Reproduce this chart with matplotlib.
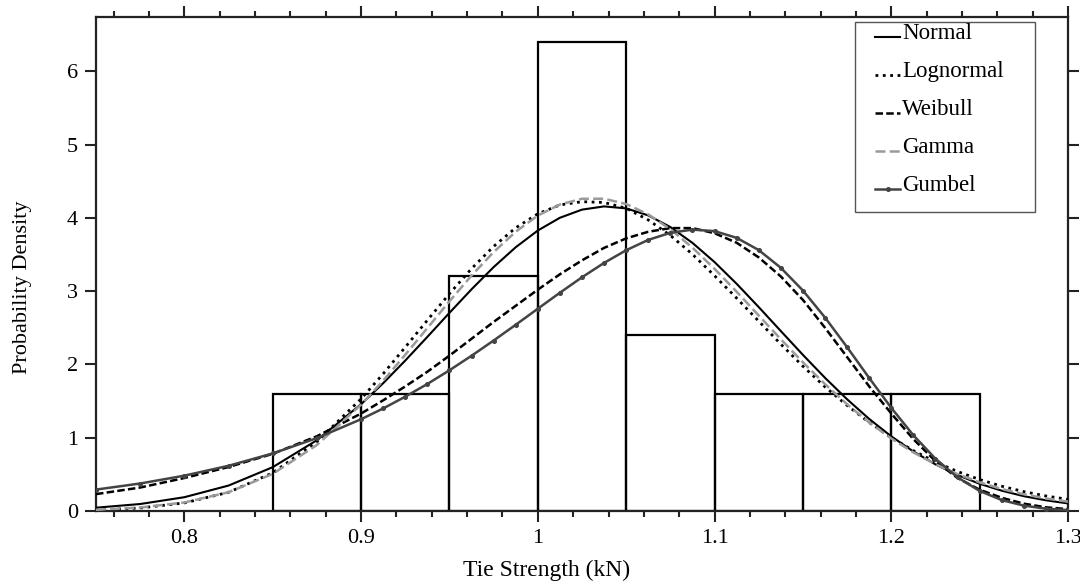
import numpy as np
import matplotlib
matplotlib.use('Agg')
import matplotlib.pyplot as plt
from matplotlib.lines import Line2D
from matplotlib.patches import Rectangle
from matplotlib.legend_handler import HandlerLine2D

# histogram of tie strength (kN)
bin_left = [0.85, 0.90, 0.95, 1.00, 1.05, 1.10, 1.15, 1.20]
bin_height = [1.6, 1.6, 3.2, 6.4, 2.4, 1.6, 1.6, 1.6]
bin_width = 0.05

# fitted density curves
x_fit = [0.75, 0.775, 0.8, 0.825, 0.85, 0.875, 0.9, 0.9125, 0.925, 0.9375,
         0.95, 0.9625, 0.975, 0.9875, 1.0, 1.0125, 1.025, 1.0375, 1.05, 1.0625,
         1.075, 1.0875, 1.1, 1.1125, 1.125, 1.1375, 1.15, 1.1625, 1.175, 1.1875,
         1.2, 1.2125, 1.225, 1.2375, 1.25, 1.2625, 1.275, 1.2875, 1.3]
normal = [0.045, 0.095, 0.188, 0.347, 0.598, 0.966, 1.457, 1.744, 2.053, 2.376,
          2.704, 3.025, 3.328, 3.599, 3.827, 4.001, 4.112, 4.156, 4.129, 4.033,
          3.874, 3.658, 3.396, 3.100, 2.782, 2.455, 2.130, 1.817, 1.524, 1.256,
          1.018, 0.812, 0.636, 0.490, 0.371, 0.277, 0.202, 0.146, 0.103]
lognormal = [0.013, 0.041, 0.110, 0.255, 0.520, 0.945, 1.530, 1.872, 2.235, 2.603,
             2.965, 3.307, 3.610, 3.864, 4.055, 4.176, 4.220, 4.210, 4.130, 3.971,
             3.760, 3.503, 3.210, 2.904, 2.590, 2.276, 1.975, 1.694, 1.440, 1.208,
             1.003, 0.823, 0.669, 0.538, 0.429, 0.338, 0.264, 0.205, 0.158]
weibull = [0.23, 0.32, 0.45, 0.60, 0.78, 1.02, 1.33, 1.51, 1.70, 1.90,
           2.12, 2.35, 2.58, 2.80, 3.02, 3.23, 3.42, 3.59, 3.72, 3.81,
           3.86, 3.86, 3.79, 3.66, 3.46, 3.20, 2.88, 2.50, 2.10, 1.70,
           1.33, 0.98, 0.68, 0.45, 0.29, 0.18, 0.10, 0.05, 0.025]
gamma = [0.016, 0.047, 0.116, 0.256, 0.506, 0.901, 1.451, 1.778, 2.132, 2.496,
         2.861, 3.213, 3.533, 3.811, 4.031, 4.182, 4.260, 4.261, 4.188, 4.047,
         3.844, 3.593, 3.304, 2.992, 2.667, 2.343, 2.028, 1.731, 1.456, 1.208,
         0.989, 0.799, 0.638, 0.502, 0.391, 0.300, 0.228, 0.171, 0.127]
gumbel = [0.292, 0.375, 0.482, 0.617, 0.785, 0.995, 1.252, 1.399, 1.560, 1.733,
          1.920, 2.118, 2.326, 2.541, 2.760, 2.978, 3.189, 3.385, 3.558, 3.699,
          3.796, 3.839, 3.819, 3.727, 3.560, 3.318, 3.008, 2.640, 2.235, 1.815,
          1.407, 1.033, 0.713, 0.459, 0.273, 0.149, 0.073, 0.032, 0.012]

x_ticks = [0.8, 0.9, 1.0, 1.1, 1.2, 1.3]
x_tick_labels = ['0.8', '0.9', '1', '1.1', '1.2', '1.3']
y_ticks = [0, 1, 2, 3, 4, 5, 6]
names = ['Normal', 'Lognormal', 'Weibull', 'Gamma', 'Gumbel']


class LowLine(HandlerLine2D):
    # legend sample sits on the text baseline, like the original
    def create_artists(self, legend, orig_handle, xdescent, ydescent,
                       width, height, fontsize, trans):
        return super().create_artists(legend, orig_handle, xdescent,
                                      ydescent + 0.55 * fontsize, width,
                                      height, fontsize, trans)


plt.rcParams['font.family'] = ['Liberation Serif', 'DejaVu Serif']

fig = plt.figure(figsize=(10.8, 5.87), dpi=100)
ax = fig.add_axes([0.0889, 0.1295, 0.9, 0.8415])

ax.bar(bin_left, bin_height, width=bin_width, align='edge', fill=False,
       edgecolor='black', linewidth=1.6, zorder=2)

styles = [
    dict(color='black', lw=1.5, ls='-'),
    dict(color='black', lw=2.0, ls=':'),
    dict(color='black', lw=1.8, dashes=(3, 1.3)),
    dict(color='#9a9a9a', lw=1.8, dashes=(4, 1.7)),
    dict(color='#444444', lw=1.8, ls='-', marker='o', ms=2.6),
]
for ys, st in zip([normal, lognormal, weibull, gamma, gumbel], styles):
    ax.plot(x_fit, ys, zorder=3, **st)

ax.set_xlim(0.75, 1.3)
ax.set_ylim(0, 6.74)
ax.set_xticks(x_ticks)
ax.set_xticklabels(x_tick_labels)
ax.set_xticks(np.arange(0.76, 1.3, 0.02), minor=True)
ax.set_yticks(y_ticks)
ax.tick_params(which='both', direction='out', top=True, right=True,
               labeltop=False, labelright=False, color='#222222', width=1.5)
ax.tick_params(which='major', length=8, labelsize=16, pad=5)
ax.tick_params(which='minor', length=4.5)
for s in ax.spines.values():
    s.set_color('#222222')
    s.set_linewidth(1.6)

ax.set_xlabel('Tie Strength (kN)', fontsize=17)
ax.set_ylabel('Probability Density', fontsize=16)
ax.xaxis.set_label_coords(0.464, -0.098)
ax.yaxis.set_label_coords(-0.066, 0.453)

# legend box
ax.add_patch(Rectangle((0.7809, 0.6053), 0.1851, 0.3846, transform=ax.transAxes,
                       fill=False, edgecolor='#555555', lw=1.0, zorder=5))
handles = [Line2D([], [], **st) for st in styles]
leg = ax.legend(handles, names, loc='upper left', bbox_to_anchor=(0.8014, 0.988),
                fontsize=16.5, frameon=False, handlelength=1.1,
                handletextpad=0.1, labelspacing=0.74, borderpad=0,
                borderaxespad=0, handler_map={Line2D: LowLine()})

fig.savefig('out.png', dpi=100)
